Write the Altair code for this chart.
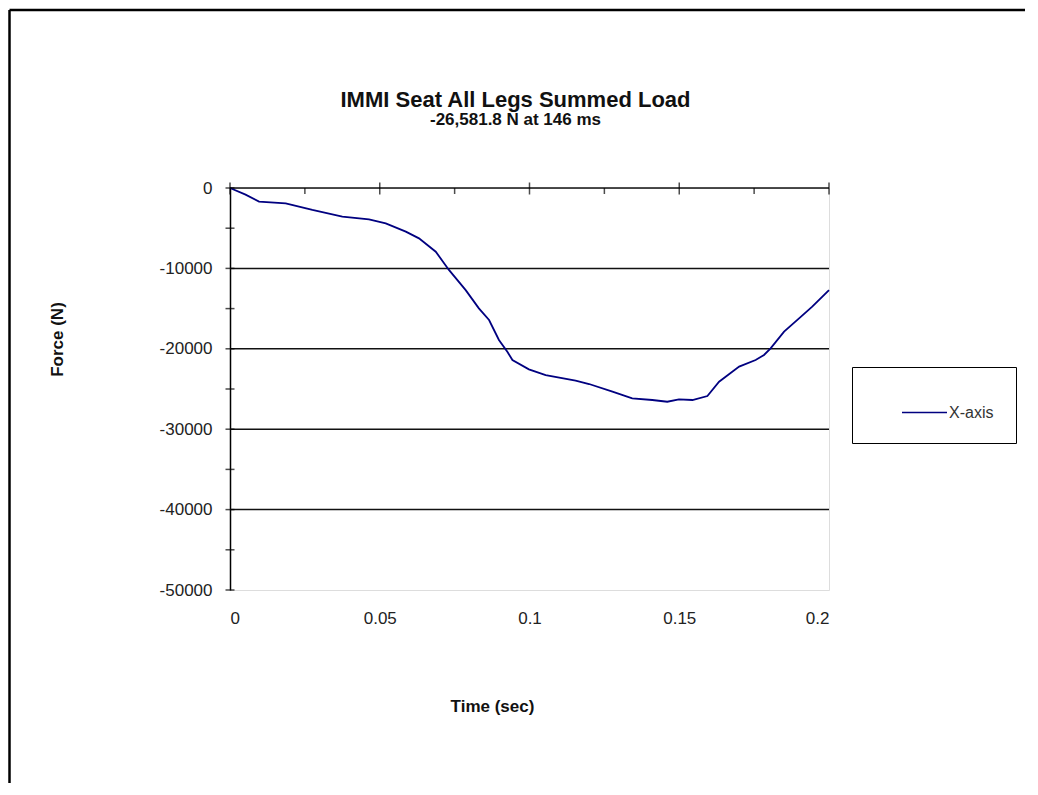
import altair as alt
import pandas as pd

# ---- data ----
time_s = [0, 0.0052, 0.0097, 0.0186, 0.0275, 0.0375, 0.0464, 0.052, 0.0587, 0.0631,
          0.0687, 0.0731, 0.0787, 0.0831, 0.0865, 0.0898, 0.0926, 0.0943, 0.0998, 0.1054,
          0.1154, 0.1199, 0.1277, 0.1343, 0.141, 0.146, 0.1499, 0.1544, 0.1594, 0.1633,
          0.17, 0.1755, 0.1783, 0.1805, 0.185, 0.19, 0.1944, 0.2]
force_n = [0, -830, -1700, -1900, -2730, -3560, -3890, -4390, -5430, -6260,
           -7920, -10190, -12700, -14970, -16420, -18900, -20360, -21400, -22550, -23260,
           -23970, -24380, -25330, -26160, -26370, -26582, -26290, -26370, -25870, -24090,
           -22220, -21390, -20770, -19940, -17870, -16210, -14760, -12690]
series_name = "X-axis"

x_major = [0, 0.05, 0.1, 0.15, 0.2]
x_minor = [0.025, 0.075, 0.125, 0.175]
y_labels = [0, -10000, -20000, -30000, -40000, -50000]
y_ticks = [0, -5000, -10000, -15000, -20000, -25000, -30000, -35000, -40000, -45000, -50000]
grid_lines = [0, -10000, -20000, -30000, -40000]

title_text = "IMMI Seat All Legs Summed Load"
subtitle_text = "-26,581.8 N at 146 ms"

FONT = "Liberation Sans"
xs = alt.Scale(domain=[0, 0.2], nice=False, zero=False)
ys = alt.Scale(domain=[-50000, 0], nice=False, zero=False)

x_axis = alt.Axis(
    orient="bottom", values=x_major, format="~g", domain=False, ticks=False,
    tickSize=0, grid=False, labelFontSize=17, labelColor="#222222",
    labelPadding=20, labelFont=FONT,
    title="Time (sec)", titleFontSize=17, titleFontWeight="bold", titleFont=FONT,
    titleColor="#111111", titleX=262, titleY=116, titleAlign="center",
    titleBaseline="middle")
y_axis = alt.Axis(
    values=y_labels, labelExpr="datum.value + ''", domain=True, domainColor="black",
    domainWidth=1.5, ticks=False, tickSize=0, grid=False, labelFontSize=17,
    labelColor="#222222", labelPadding=18, labelFont=FONT,
    title="Force (N)", titleFontSize=17, titleFontWeight="bold", titleFont=FONT,
    titleColor="#111111", titleAngle=270, titleX=-173, titleY=151,
    titleAlign="center", titleBaseline="middle")

X = alt.X("t:Q", scale=xs, axis=x_axis)
Y = alt.Y("f:Q", scale=ys, axis=y_axis)

df = pd.DataFrame({"t": time_s, "f": force_n, "series": [series_name] * len(time_s)})

grid = alt.Chart(pd.DataFrame({"f": grid_lines})).mark_rule(
    color="#111111", strokeWidth=1.5
).encode(y=Y)

line = alt.Chart(df).mark_line(strokeWidth=1.8).encode(
    x=X, y=Y,
    color=alt.Color("series:N", scale=alt.Scale(domain=[series_name], range=["#000080"]),
                    legend=alt.Legend(
                        orient="none", legendX=622, legendY=179, title=None,
                        symbolType="stroke", symbolSize=2025, symbolStrokeWidth=1.5,
                        symbolOffset=27, labelOffset=1, padding=22,
                        labelFontSize=16, labelColor="#333333", labelFont=FONT,
                        labelExpr="datum.label + '\u00a0\u00a0\u00a0\u00a0\u00a0'",
                        strokeColor="black", cornerRadius=0)),
)

xmaj = alt.Chart(pd.DataFrame({"t": x_major, "f": [0] * len(x_major)})).mark_tick(
    orient="vertical", size=12, thickness=1.5, color="black", yOffset=0.5
).encode(x=X, y=Y)

xmin = alt.Chart(pd.DataFrame({"t": x_minor, "f": [0] * len(x_minor)})).mark_tick(
    orient="vertical", size=6, thickness=1.5, color="black", yOffset=3
).encode(x=X, y=Y)

yt = alt.Chart(pd.DataFrame({"t": [0] * len(y_ticks), "f": y_ticks})).mark_tick(
    orient="horizontal", size=9, thickness=1.5, color="black"
).encode(x=X, y=Y)

frame_df = pd.DataFrame({"k": [0]})
frame_v = alt.Chart(frame_df).mark_rule(color="black", strokeWidth=2.5).encode(
    x=alt.value(-220.5), y=alt.value(-178), y2=alt.value(595))
frame_h = alt.Chart(frame_df).mark_rule(color="black", strokeWidth=2.5).encode(
    x=alt.value(-220.5), x2=alt.value(795), y=alt.value(-178))

chart = alt.layer(grid, line, xmaj, xmin, yt, frame_v, frame_h).properties(
    width=599, height=402, padding=0, background="white",
    title=alt.TitleParams(
        text=title_text, subtitle=subtitle_text, fontSize=22, subtitleFontSize=17,
        fontWeight="bold", subtitleFontWeight="bold", font=FONT, subtitleFont=FONT,
        color="#111111", subtitleColor="#111111", anchor="middle", frame="group",
        dx=-14, offset=-120, subtitlePadding=0),
).configure_view(stroke="#808080", strokeWidth=1.5).configure_legend(
    strokeWidth=1.5
).configure(font=FONT)

chart.save("out.html", embed_options={"renderer": "svg", "actions": False})
